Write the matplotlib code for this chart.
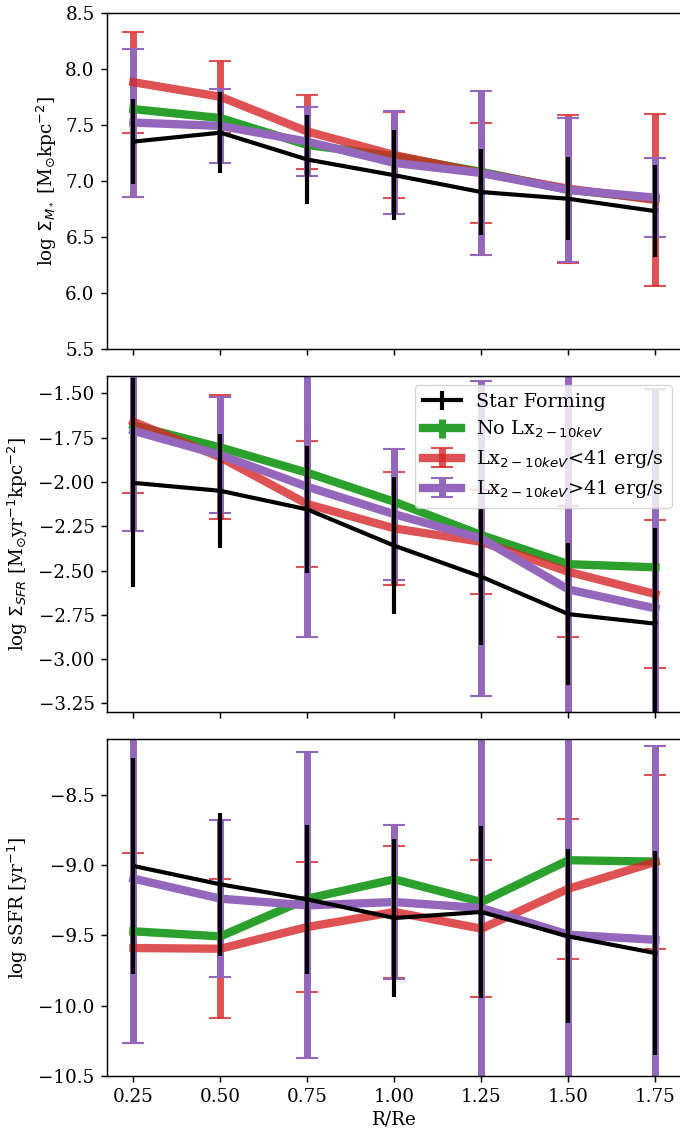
import matplotlib
matplotlib.use("Agg")
import matplotlib.pyplot as plt

# Radial bins (R/Re)
radius = [0.25, 0.50, 0.75, 1.00, 1.25, 1.50, 1.75]

# log Sigma_M*  [Msun kpc^-2]
mass_sf = [7.35, 7.43, 7.19, 7.05, 6.90, 6.84, 6.73]
mass_sf_err = [0.38, 0.36, 0.40, 0.40, 0.38, 0.37, 0.41]
mass_nolx = [7.64, 7.56, 7.32, 7.22, 7.08, 6.92, 6.84]
mass_nolx_err = [0.30, 0.22, 0.24, 0.28, 0.30, 0.30, 0.30]
mass_low = [7.88, 7.75, 7.44, 7.23, 7.07, 6.93, 6.83]
mass_low_err = [0.45, 0.32, 0.33, 0.38, 0.45, 0.66, 0.77]
mass_high = [7.52, 7.49, 7.35, 7.16, 7.07, 6.92, 6.85]
mass_high_err = [0.66, 0.33, 0.31, 0.46, 0.73, 0.64, 0.35]

# log Sigma_SFR  [Msun yr^-1 kpc^-2]
sfr_sf = [-2.005, -2.05, -2.155, -2.36, -2.535, -2.746, -2.80]
sfr_sf_err = [0.59, 0.32, 0.36, 0.386, 0.385, 0.40, 0.54]
sfr_nolx = [-1.68, -1.805, -1.948, -2.112, -2.30, -2.464, -2.482]
sfr_nolx_err = [0.28, 0.24, 0.26, 0.24, 0.28, 0.30, 0.30]
sfr_low = [-1.66, -1.861, -2.125, -2.262, -2.338, -2.507, -2.633]
sfr_low_err = [0.40, 0.35, 0.355, 0.32, 0.295, 0.37, 0.417]
sfr_high = [-1.711, -1.848, -2.027, -2.182, -2.319, -2.607, -2.714]
sfr_high_err = [0.565, 0.325, 0.85, 0.37, 0.887, 1.25, 1.24]

# log sSFR  [yr^-1]
ssfr_sf = [-9.005, -9.136, -9.243, -9.376, -9.333, -9.507, -9.626]
ssfr_sf_err = [0.77, 0.51, 0.53, 0.56, 0.61, 0.62, 0.73]
ssfr_nolx = [-9.471, -9.507, -9.238, -9.10, -9.262, -8.964, -8.974]
ssfr_nolx_err = [0.30, 0.24, 0.28, 0.30, 0.32, 0.30, 0.30]
ssfr_low = [-9.59, -9.595, -9.44, -9.333, -9.452, -9.167, -8.976]
ssfr_low_err = [0.68, 0.495, 0.46, 0.47, 0.49, 0.50, 0.62]
ssfr_high = [-9.095, -9.238, -9.286, -9.262, -9.305, -9.495, -9.531]
ssfr_high_err = [1.17, 0.56, 1.09, 0.55, 1.40, 1.50, 1.38]

labels = ["Star Forming",
          r"No Lx$_{2-10keV}$",
          r"Lx$_{2-10keV}$<41 erg/s",
          r"Lx$_{2-10keV}$>41 erg/s"]

plt.rcParams["font.family"] = "serif"
plt.rcParams["font.serif"] = ["DejaVu Serif"]
plt.rcParams["mathtext.fontset"] = "dejavusans"

fig = plt.figure(figsize=(6.8, 11.33), dpi=100)
W, H = 680.0, 1133.0
left = 107.3 / W
width = (681.5 - 107.3) / W
boxes = [(12.7, 349.0), (375.7, 711.7), (739.0, 1075.7)]
axes = []
for top, bot in boxes:
    ax = fig.add_axes([left, 1 - bot / H, width, (bot - top) / H])
    axes.append(ax)

panels = [
    (mass_sf, mass_sf_err, mass_nolx, mass_nolx_err, mass_low, mass_low_err,
     mass_high, mass_high_err),
    (sfr_sf, sfr_sf_err, sfr_nolx, sfr_nolx_err, sfr_low, sfr_low_err,
     sfr_high, sfr_high_err),
    (ssfr_sf, ssfr_sf_err, ssfr_nolx, ssfr_nolx_err, ssfr_low, ssfr_low_err,
     ssfr_high, ssfr_high_err),
]

for ax, (sf, sfe, nl, nle, lo, loe, hi, hie) in zip(axes, panels):
    ax.errorbar(radius, sf, yerr=sfe, color="black", lw=3, elinewidth=3,
                capsize=0, zorder=5, label=labels[0])
    ax.errorbar(radius, nl, yerr=nle, color="tab:green", lw=6, elinewidth=5,
                capsize=0, label=labels[1])
    ax.errorbar(radius, lo, yerr=loe, color="tab:red", alpha=0.8, lw=6,
                elinewidth=5, capsize=8, capthick=1.5, label=labels[2])
    ax.errorbar(radius, hi, yerr=hie, color="tab:purple", lw=6, elinewidth=5,
                capsize=8, capthick=1.5, label=labels[3])
    ax.set_xlim(0.175, 1.825)
    ax.set_xticks(radius)
    ax.tick_params(labelsize=13.2, length=6.4 / 1.389, width=1.06, pad=4.6)
    for sp in ax.spines.values():
        sp.set_linewidth(1.06)

axes[0].set_ylim(5.5, 8.5)
axes[0].set_yticks([5.5, 6.0, 6.5, 7.0, 7.5, 8.0, 8.5])
axes[1].set_ylim(-3.297, -1.40)
axes[1].set_yticks([-3.25, -3.0, -2.75, -2.5, -2.25, -2.0, -1.75, -1.5])
axes[2].set_ylim(-10.5, -8.1)
axes[2].set_yticks([-10.5, -10.0, -9.5, -9.0, -8.5])

axes[0].tick_params(labelbottom=False)
axes[1].tick_params(labelbottom=False)

axes[0].set_ylabel(r"log $\Sigma_{M_*}$ [M$_{\odot}$kpc$^{-2}$]", fontsize=13.2, labelpad=5.5)
axes[1].set_ylabel(r"log $\Sigma_{SFR}$ [M$_{\odot}$yr$^{-1}$kpc$^{-2}$]", fontsize=13.2, labelpad=5.5)
axes[2].set_ylabel(r"log sSFR [yr$^{-1}$]", fontsize=13.2, labelpad=5.5)
axes[2].set_xlabel("R/Re", fontsize=13.2, labelpad=3)

axes[1].legend(loc="upper right", fontsize=13.8, borderaxespad=0.5,
               labelspacing=0.42)

fig.savefig("out.png", dpi=100)
